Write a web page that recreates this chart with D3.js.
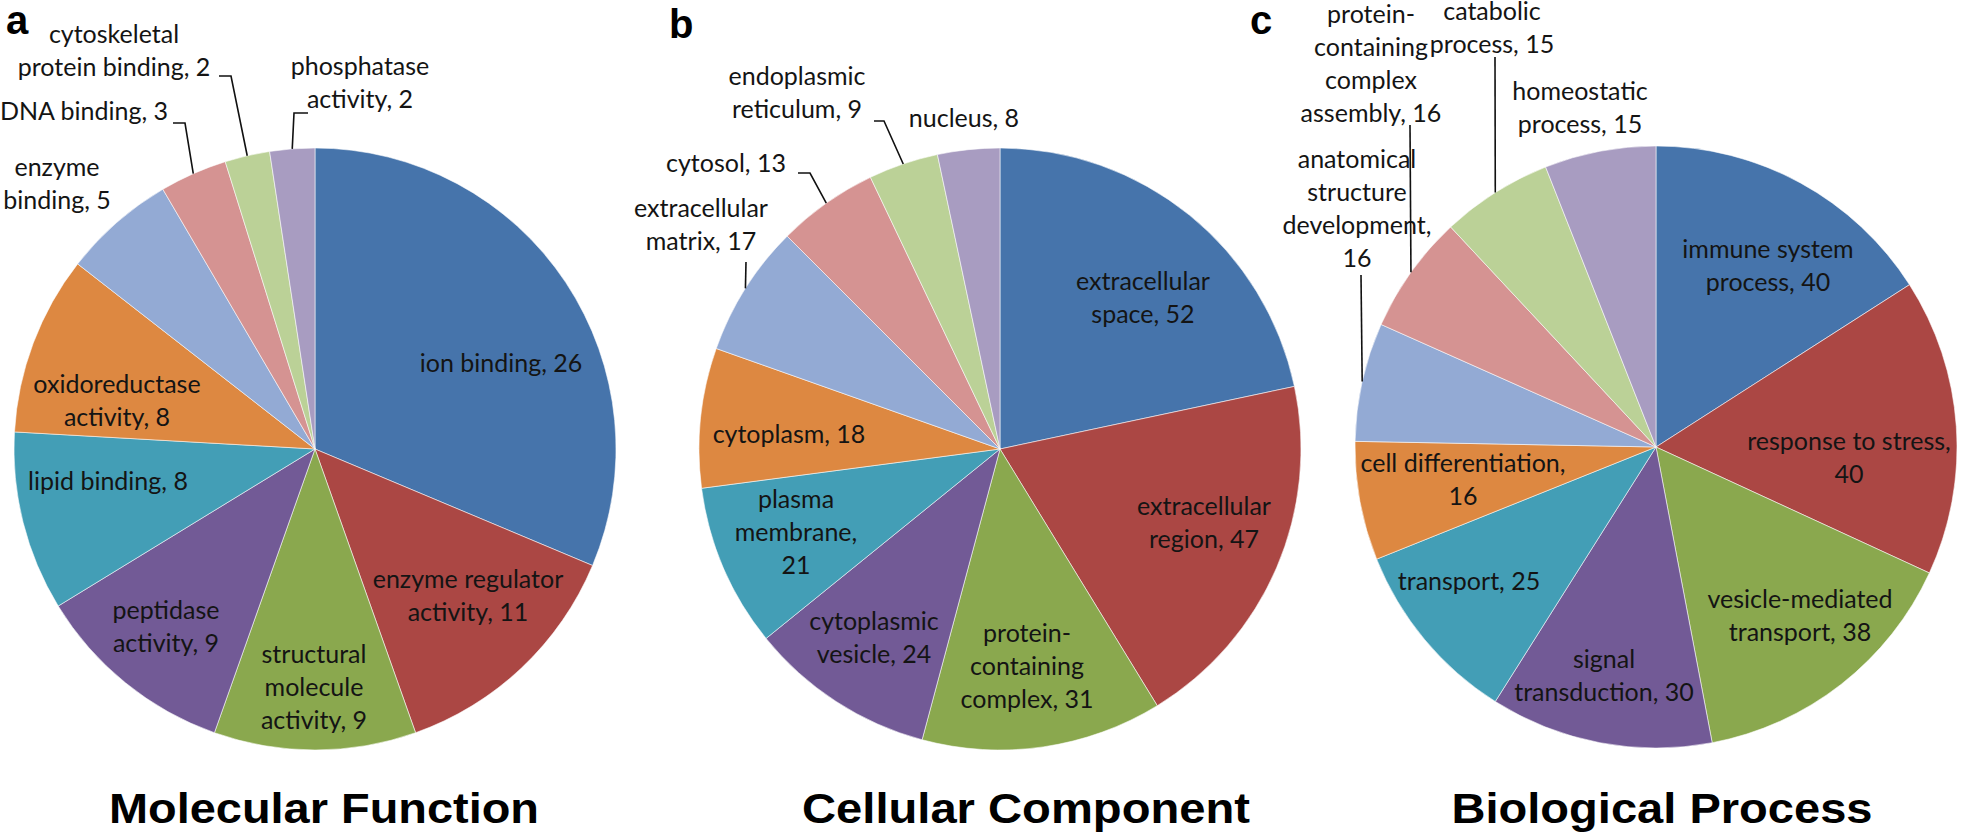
<!DOCTYPE html>
<html>
<head>
<meta charset="utf-8">
<script src="https://cdn.jsdelivr.net/npm/d3@7"></script>
<style>
  body { margin: 0; background: #fff; }
  svg { display: block; }
  .lbl { font-family: Lato, "Liberation Sans", sans-serif; font-size: 25px; fill: #141414; }
  .ttl { font-family: "Liberation Sans", Arial, sans-serif; font-weight: bold; font-size: 42px; fill: #000; }
  .lead { fill: none; stroke: #111; stroke-width: 1.6; }
</style>
</head>
<body>
<svg width="1961" height="836"></svg>
<script>
// values, clockwise from 12 o'clock
var mfCategories = ["ion binding", "enzyme regulator activity", "structural molecule activity",
  "peptidase activity", "lipid binding", "oxidoreductase activity", "enzyme binding",
  "DNA binding", "cytoskeletal protein binding", "phosphatase activity"];
var mfValues = [26, 11, 9, 9, 8, 8, 5, 3, 2, 2];

var ccCategories = ["extracellular space", "extracellular region", "protein-containing complex",
  "cytoplasmic vesicle", "plasma membrane", "cytoplasm", "extracellular matrix",
  "cytosol", "endoplasmic reticulum", "nucleus"];
var ccValues = [52, 47, 31, 24, 21, 18, 17, 13, 9, 8];

var bpCategories = ["immune system process", "response to stress", "vesicle-mediated transport",
  "signal transduction", "transport", "cell differentiation", "anatomical structure development",
  "protein-containing complex assembly", "catabolic process", "homeostatic process"];
var bpValues = [40, 40, 38, 30, 25, 16, 16, 16, 15, 15];

var panelTitles = ["Molecular Function", "Cellular Component", "Biological Process"];
var panelLetters = ["a", "b", "c"];

var colors = ["#4674ab", "#ab4744", "#8aa84e", "#725a96", "#439eb6", "#dd8841",
              "#93aad4", "#d59392", "#bbd197", "#a89cc1"];

var svg = d3.select("svg"),
    radius = 301,
    lineH = 33;

// layout of each panel: pie centre, title, letter, and per-label placement
// lbl: [centre x, first baseline, words per line, leader elbow points...]
var panels = [
  { cats: mfCategories, vals: mfValues, cx: 315, cy: 449,
    title: {x: 324, w: 430}, letter: {x: 6, y: 34},
    lbl: [
      [501, 372, [3]],
      [468, 588, [2, 2]],
      [314, 663, [1, 1, 2]],
      [166, 619, [1, 2]],
      [108, 490, [3]],
      [117, 393, [1, 2]],
      [57, 176, [1, 2]],
      [84, 120, [3], [[185, 123], [173, 123]]],
      [114, 43, [1, 3], [[231, 76], [219, 76]]],
      [360, 75, [1, 2], [[294, 113], [308, 113]]]
    ] },
  { cats: ccCategories, vals: ccValues, cx: 1000, cy: 449,
    title: {x: 1026, w: 448}, letter: {x: 669, y: 38},
    lbl: [
      [1143, 290, [1, 2]],
      [1204, 515, [1, 2]],
      [1027, 642, [1, 1, 2]],
      [874, 630, [1, 2]],
      [796, 508, [1, 1, 1]],
      [789, 443, [2]],
      [701, 217, [1, 2], [[746, 262]]],
      [726, 172, [2], [[810, 173], [798, 173]]],
      [797, 85, [1, 2], [[884, 121], [874, 121]]],
      [964, 127, [2]]
    ] },
  { cats: bpCategories, vals: bpValues, cx: 1656, cy: 447,
    title: {x: 1662, w: 421}, letter: {x: 1250, y: 34},
    lbl: [
      [1768, 258, [2, 2]],
      [1849, 450, [3, 1]],
      [1800, 608, [2, 2]],
      [1604, 668, [1, 2]],
      [1469, 590, [2]],
      [1463, 472, [2, 1]],
      [1357, 168, [1, 1, 1, 1], [[1361, 275]]],
      [1371, 23, [1, 1, 1, 2], [[1410, 125]]],
      [1492, 20, [1, 2], [[1495, 57]]],
      [1580, 100, [1, 2]]
    ] }
];

var pie = d3.pie().sort(null).value(function(d) { return d; });
var arc = d3.arc().innerRadius(0).outerRadius(radius);
var edge = d3.arc().innerRadius(radius).outerRadius(radius);

function wrapLines(text, counts) {
  var words = text.split(/\s+|(?<=-)/), lines = [], k = 0;
  counts.forEach(function(n) {
    var s = "";
    words.slice(k, k + n).forEach(function(w) {
      s += (s === "" || s.slice(-1) === "-") ? w : " " + w;
    });
    lines.push(s);
    k += n;
  });
  return lines;
}

panels.forEach(function(p, pi) {
  var arcs = pie(p.vals);

  var g = svg.append("g")
      .attr("transform", "translate(" + p.cx + "," + p.cy + ")");

  g.selectAll(".slice")
    .data(arcs)
    .enter().append("path")
      .attr("class", "slice")
      .attr("d", arc)
      .attr("fill", function(d, i) { return colors[i]; })
      .attr("stroke", "rgba(255,255,255,0.55)")
      .attr("stroke-width", 1);

  // leader lines from the slice edge to the label
  arcs.forEach(function(d, i) {
    var L = p.lbl[i];
    if (!L[3]) return;
    var c = edge.centroid(d);
    var pts = [[p.cx + c[0], p.cy + c[1]]].concat(L[3]);
    svg.append("path")
      .attr("class", "lead")
      .attr("d", d3.line()(pts));
  });

  arcs.forEach(function(d, i) {
    var L = p.lbl[i];
    var lines = wrapLines(p.cats[i] + ", " + p.vals[i], L[2]);
    var t = svg.append("text")
      .attr("class", "lbl")
      .attr("text-anchor", "middle");
    lines.forEach(function(s, j) {
      t.append("tspan")
        .attr("x", L[0])
        .attr("y", L[1] + j * lineH)
        .text(s);
    });
  });

  svg.append("text")
    .attr("class", "ttl")
    .attr("x", p.title.x)
    .attr("y", 823)
    .attr("text-anchor", "middle")
    .attr("textLength", p.title.w)
    .attr("lengthAdjust", "spacingAndGlyphs")
    .text(panelTitles[pi]);

  svg.append("text")
    .attr("class", "ttl")
    .attr("x", p.letter.x)
    .attr("y", p.letter.y)
    .style("font-size", "40px")
    .text(panelLetters[pi]);
});
</script>
</body>
</html>
